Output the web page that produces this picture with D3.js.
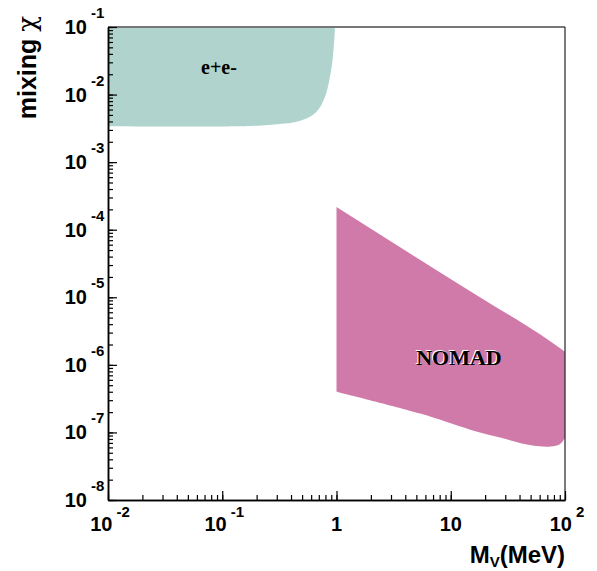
<!DOCTYPE html>
<html>
<head>
<meta charset="utf-8">
<script src="https://cdn.jsdelivr.net/npm/d3@7"></script>
<style>
  body { margin: 0; background: #fff; }
  svg { display: block; }
</style>
</head>
<body>
<script>
// axis decades and their labels (base, exponent)
const xDecades = [0.01, 0.1, 1, 10, 100];
const xLabels = [["10", "-2"], ["10", "-1"], ["1", ""], ["10", ""], ["10", "2"]];
const yDecades = [1e-1, 1e-2, 1e-3, 1e-4, 1e-5, 1e-6, 1e-7, 1e-8];
const yLabels = ["-1", "-2", "-3", "-4", "-5", "-6", "-7", "-8"];

// e+e- excluded region: lower boundary, read from right to left
const eeMass = [0.97, 0.937, 0.877, 0.793, 0.689, 0.586, 0.449, 0.32, 0.175, 0.01];
const eeChi = [0.1, 0.0412, 0.0184, 0.0093, 0.0059, 0.0047, 0.00397, 0.00367, 0.00343, 0.0034];

// NOMAD region: upper boundary (left to right), lower boundary (right to left)
const nomadUpMass = [1, 18, 60, 100];
const nomadUpChi = [2.17e-4, 1.0e-5, 2.85e-6, 1.56e-6];
const nomadLoMass = [100, 90, 75, 52, 27, 14.8, 5.4, 1];
const nomadLoChi = [8.3e-8, 6.7e-8, 6.2e-8, 6.4e-8, 8.4e-8, 1.1e-7, 1.9e-7, 4.0e-7];

const width = 597, height = 571;
const mLeft = 108, mRight = 565, mTop = 27, mBottom = 500;

const svg = d3.select('body').append('svg')
  .attr('width', width)
  .attr('height', height);

const x = d3.scaleLog().domain([0.01, 100]).range([mLeft, mRight]);
const y = d3.scaleLog().domain([1e-8, 0.1]).range([mBottom, mTop]);

svg.append('clipPath').attr('id', 'plot')
  .append('rect')
  .attr('x', mLeft).attr('y', mTop)
  .attr('width', mRight - mLeft).attr('height', mBottom - mTop);

const g = svg.append('g').attr('clip-path', 'url(#plot)');

// e+e- region
const eePts = eeMass.map((m, i) => [x(m), y(eeChi[i])]);
const curve = d3.line().curve(d3.curveCatmullRom.alpha(0.5));
g.append('path')
  .attr('d', curve(eePts) + `L${x(0.01)},${y(0.1)}Z`)
  .attr('fill', '#b0d3cd');

// NOMAD region
const upPts = nomadUpMass.map((m, i) => [x(m), y(nomadUpChi[i])]);
const loPts = nomadLoMass.map((m, i) => [x(m), y(nomadLoChi[i])]);
const upLine = d3.line().curve(d3.curveMonotoneX);
g.append('path')
  .attr('d', upLine(upPts) + 'L' + curve(loPts).slice(1) + 'Z')
  .attr('fill', '#cf7aa9');

// region labels
svg.append('text')
  .attr('x', 219).attr('y', 74)
  .attr('text-anchor', 'middle')
  .style('font', 'bold 20px "Liberation Serif", serif')
  .text('e+e-');

svg.append('text')
  .attr('x', 458).attr('y', 364)
  .attr('text-anchor', 'middle')
  .attr('fill', '#fff')
  .style('font', 'bold 22px "Liberation Serif", serif')
  .text('NOMAD');
svg.append('text')
  .attr('x', 459).attr('y', 365)
  .attr('text-anchor', 'middle')
  .style('font', 'bold 22px "Liberation Serif", serif')
  .text('NOMAD');

// frame: top and right
svg.append('line')
  .attr('x1', mLeft).attr('x2', mRight).attr('y1', mTop).attr('y2', mTop)
  .attr('stroke', '#777').attr('stroke-width', 2);
svg.append('line')
  .attr('x1', mRight).attr('x2', mRight).attr('y1', mTop).attr('y2', mBottom)
  .attr('stroke', '#222').attr('stroke-width', 1.2);

// axes: minor and major ticks pointing inward
function styleAxis(sel) {
  sel.select('.domain').attr('stroke', '#000').attr('stroke-width', 1.5);
  sel.selectAll('.tick line').attr('stroke', '#000').attr('stroke-width', 1.2);
  sel.selectAll('.tick text').remove();
}

svg.append('g').attr('transform', `translate(0,${mBottom})`)
  .call(d3.axisBottom(x).ticks(20).tickSize(-5).tickSizeOuter(0).tickFormat(''))
  .call(styleAxis);
svg.append('g').attr('transform', `translate(0,${mBottom})`)
  .call(d3.axisBottom(x).tickValues(xDecades).tickSize(-9).tickSizeOuter(0).tickFormat(''))
  .call(styleAxis);

svg.append('g').attr('transform', `translate(${mLeft},0)`)
  .call(d3.axisLeft(y).ticks(30).tickSize(-5).tickSizeOuter(0).tickFormat(''))
  .call(styleAxis);
svg.append('g').attr('transform', `translate(${mLeft},0)`)
  .call(d3.axisLeft(y).tickValues(yDecades).tickSize(-9).tickSizeOuter(0).tickFormat(''))
  .call(styleAxis);

const labelFont = 'bold 20px "Liberation Sans", Arial, sans-serif';
const expFont = 'bold 15px "Liberation Sans", Arial, sans-serif';

// x tick labels
xDecades.forEach((d, i) => {
  const t = svg.append('text')
    .attr('x', x(d) + (xLabels[i][1] ? 2 : 0))
    .attr('y', 531)
    .attr('text-anchor', 'middle');
  t.append('tspan').style('font', labelFont).text(xLabels[i][0]);
  if (xLabels[i][1]) {
    t.append('tspan').attr('dx', 4).attr('dy', -14).style('font', expFont).text(xLabels[i][1]);
  }
});

// y tick labels
yDecades.forEach((d, i) => {
  svg.append('text')
    .attr('x', 87).attr('y', y(d) + 7)
    .attr('text-anchor', 'end')
    .style('font', labelFont)
    .text('10');
  svg.append('text')
    .attr('x', 91).attr('y', y(d) - 9)
    .style('font', expFont)
    .text(yLabels[i]);
});

// axis titles
svg.append('text')
  .attr('transform', 'translate(36,16) rotate(-90)')
  .attr('text-anchor', 'end')
  .style('font', 'bold 25px "Liberation Sans", Arial, sans-serif')
  .call(t => {
    t.append('tspan').text('mixing ');
    t.append('tspan').style('font', '26px "DejaVu Serif", serif').text('χ');
  });

svg.append('text')
  .attr('x', 565).attr('y', 563)
  .attr('text-anchor', 'end')
  .style('font', 'bold 24px "Liberation Sans", Arial, sans-serif')
  .call(t => {
    t.append('tspan').text('M');
    t.append('tspan').attr('dy', 4).style('font-size', '15px').text('V');
    t.append('tspan').attr('dy', -4).text('(MeV)');
  });
</script>
</body>
</html>
